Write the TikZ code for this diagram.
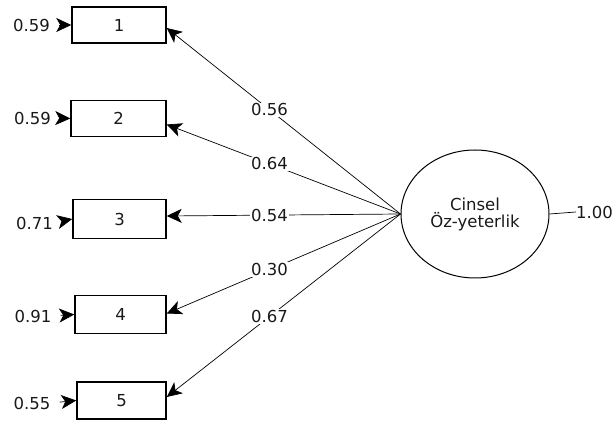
\documentclass[tikz,border=0pt]{standalone}
\usepackage{fontspec}
\setmainfont{DejaVu Sans}
\usetikzlibrary{arrows.meta,shapes.geometric}
\begin{document}
\begin{tikzpicture}[x=1pt,y=1pt,
  font=\fontsize{16.5}{19}\selectfont,
  obs/.style={draw=black,line width=1.5pt,minimum height=36pt,inner sep=0pt,text=black!90},
  lat/.style={draw=black,ellipse,line width=1pt,minimum width=148pt,minimum height=128pt,inner sep=0pt,align=center,text=black!90},
  arr/.style={-{Stealth[length=15pt,width=14pt,inset=4pt]},line width=0.7pt},
  lbl/.style={fill=white,inner sep=1pt,text=black!90},
  err/.style={text=black!90,inner sep=0pt}]
\useasboundingbox (0,0) rectangle (614,423);
\node[obs,minimum width=94pt] (b1) at (119,398) {1};
\node[obs,minimum width=95pt] (b2) at (118.5,304.5) {2};
\node[obs,minimum width=93pt,minimum height=39pt] (b3) at (119.5,204) {3};
\node[obs,minimum width=91pt,minimum height=38pt] (b4) at (120.5,108.5) {4};
\node[obs,minimum width=89pt,minimum height=37pt] (b5) at (121.5,22.5) {5};
\node[lat] (lv) at (475,209) {Cinsel\\[-2pt]Öz-yeterlik};
\node[err] (e1) at (31.5,398) {0.59};
\node[err] (e2) at (32.5,305) {0.59};
\node[err] (e3) at (34.5,200) {0.71};
\node[err] (e4) at (33,107) {0.91};
\node[err] (e5) at (32,20) {0.55};
\node[err,anchor=west] (d) at (576,211) {1.00};
\draw[line width=0.7pt] (lv.east) -- (d.west);
\foreach \i in {1,...,5}{
  \draw[arr,shorten <=9pt] (e\i.east) -- (b\i.west);
}
\draw[arr] (lv.west) -- ([yshift=-3pt]b1.east) node[lbl,pos=0.56]{0.56};
\draw[arr] (lv.west) -- ([yshift=-6pt]b2.east) node[lbl,pos=0.56]{0.64};
\draw[arr] (lv.west) -- ([yshift=3pt]b3.east) node[lbl,pos=0.56]{0.54};
\draw[arr] (lv.west) -- ([yshift=1pt]b4.east) node[lbl,pos=0.56]{0.30};
\draw[arr] (lv.west) -- ([yshift=3.5pt]b5.east) node[lbl,pos=0.56]{0.67};
\end{tikzpicture}
\end{document}
